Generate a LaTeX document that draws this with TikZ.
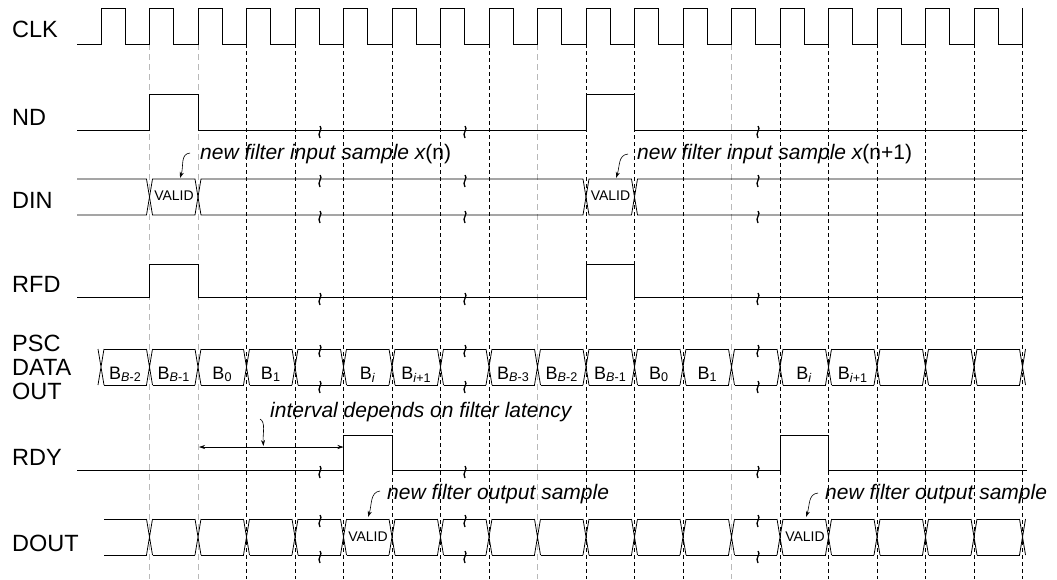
\documentclass[tikz,border=0pt]{standalone}
\usepackage{fontspec}
\setmainfont{Liberation Sans}
\usetikzlibrary{arrows.meta}

\newcommand{\Bsub}[1]{B\textsubscript{#1}}

\tikzset{brk/.pic={\draw[line width=1.3pt] (0,-4) .. controls (3.5,-1) and (-3.5,3) .. (0,8);}}

\begin{document}
\begin{tikzpicture}[x=1pt, y=-1pt,
					sig/.style={line width=0.8pt},
					grid/.style={dash pattern=on 4pt off 3pt, line width=0.7pt},
					lgrid/.style={gray!55, dash pattern=on 6pt off 4pt, line width=0.6pt},
					lbl/.style={anchor=base west, inner sep=0pt, font=\fontsize{23.5}{24}\selectfont},
					ann/.style={anchor=base west, inner sep=0pt, font=\fontsize{21}{21}\selectfont\itshape},
					val/.style={anchor=base, inner sep=0pt, font=\fontsize{14}{14}\selectfont},
					bval/.style={anchor=base, inner sep=0pt, font=\fontsize{18}{18}\selectfont},
					pointer/.style={-{Stealth[length=6pt,width=4pt]}, line width=0.6pt}]
\useasboundingbox (0,0) rectangle (1057,579);

% clock edge grid
\foreach \k in {1,2,9,13}
	\draw[lgrid] ({101+48.5*\k},44) -- ({101+48.5*\k},579);
\foreach \k in {3,4,5,6,7,8,10,11,12,14,15,16,17,18,19}
	\draw[grid] ({101+48.5*\k},44) -- ({101+48.5*\k},579);

% signal names
\node[lbl] (clk) at (12,37) {CLK};
\node[lbl] (nd) at (12,125) {ND};
\node[lbl] (din) at (12,208) {DIN};
\node[lbl] (rfd) at (12,292) {RFD};
\node[lbl] (psc) at (12,351) {PSC};
\node[lbl] (pscdata) at (12,375) {DATA};
\node[lbl] (pscout) at (12,399) {OUT};
\node[lbl] (rdy) at (12,465) {RDY};
\node[lbl] (dout) at (12,551) {DOUT};

% CLK
\draw[sig] (77,44) \foreach \k in {0,...,18} { -- ({101+48.5*\k},44) -- ++(0,-36) -- ++(24.25,0) -- ++(0,36) } -- (1022.5,44) -- (1022.5,8);

% ND and RFD
\draw[sig] (77,130) -- (149.5,130) -- (149.5,94) -- (198,94) -- (198,130) -- (586,130) -- (586,94) -- (634.5,94) -- (634.5,130) -- (1027,130);
\draw[sig] (77,297) -- (149.5,297) -- (149.5,264) -- (198,264) -- (198,297) -- (586,297) -- (586,264) -- (634.5,264) -- (634.5,297) -- (1023,297);

% DIN
\draw[sig] (77,179) -- (146.5,179) -- (152.5,215) -- (195,215) -- (201,179) -- (583,179) -- (589,215) -- (631.5,215) -- (637.5,179) -- (1023,179);
\draw[sig] (77,215) -- (146.5,215) -- (152.5,179) -- (195,179) -- (201,215) -- (583,215) -- (589,179) -- (631.5,179) -- (637.5,215) -- (1023,215);
\node[val] (dinvalid) at (174,200) {VALID};
\node[val] (dinvalid2) at (610.5,200) {VALID};

% PSC DATA OUT
\foreach \k in {0,...,19}
	\draw[sig] ({98+48.5*\k},349) -- ++(6,36) ({98+48.5*\k},385) -- ++(6,-36);
\foreach \k in {0,...,18}
	\draw[sig] ({104+48.5*\k},349) -- ++(42.5,0) ({104+48.5*\k},385) -- ++(42.5,0);
\foreach \k/\t in {0/\Bsub{\textit{B}-2}, 1/\Bsub{\textit{B}-1}, 2/\Bsub{0}, 3/\Bsub{1},
		5/\Bsub{\textit{i}}, 6/\Bsub{\textit{i}+1}, 8/\Bsub{\textit{B}-3}, 9/\Bsub{\textit{B}-2},
		10/\Bsub{\textit{B}-1}, 11/\Bsub{0}, 12/\Bsub{1}, 14/\Bsub{\textit{i}}, 15/\Bsub{\textit{i}+1}}
	\node[bval] (b\k) at ({125.25+48.5*\k},379) {\t};

% RDY
\draw[sig] (77,470) -- (343.5,470) -- (343.5,435) -- (392,435) -- (392,470) -- (780,470) -- (780,435) -- (828.5,435) -- (828.5,470) -- (1027,470);

% DOUT
\foreach \k in {1,...,19}
	\draw[sig] ({98+48.5*\k},519) -- ++(6,36) ({98+48.5*\k},555) -- ++(6,-36);
\foreach \k in {0,...,18}
	\draw[sig] ({104+48.5*\k},519) -- ++(42.5,0) ({104+48.5*\k},555) -- ++(42.5,0);
\node[val] (doutvalid) at (368,541.5) {VALID};
\node[val] (doutvalid2) at (805,541.5) {VALID};

% breaks
\foreach \bx in {320,465,758}
	\foreach \by in {130,179,215,297,349,385,470,519,555}
		\pic at (\bx,\by) {brk};

% notes
\node[ann] (innote) at (200,159) {new filter input sample x\upshape(n)};
\node[ann] (innote2) at (637,159) {new filter input sample x\upshape(n+1)};
\node[ann] (latnote) at (270,417) {interval depends on filter latency};
\node[ann] (outnote) at (387,499) {new filter output sample};
\node[ann] (outnote2) at (825,499) {new filter output sample};

\coordinate (intip) at (180,178);
\coordinate (intip2) at (616,178);
\coordinate (latA) at (199,447);
\coordinate (latB) at (343.5,447);
\coordinate (lattip) at (263.5,446);
\coordinate (outtip) at (368,517);
\coordinate (outtip2) at (806,517);

\draw[{Stealth[length=6pt,width=4pt]}-{Stealth[length=6pt,width=4pt]}, line width=0.6pt] (latA) -- (latB);
\draw[pointer] ([shift={(-10,-6)}]innote.base west) .. controls +(-10,1) and +(4,-12) .. (intip);
\draw[pointer] ([shift={(-9,-5)}]innote2.base west) .. controls +(-10,1) and +(4,-12) .. (intip2);
\draw[pointer] ([shift={(-10,2)}]latnote.base west) .. controls +(6,3) and +(-1,-12) .. (lattip);
\draw[pointer] ([shift={(-7,-8)}]outnote.base west) .. controls +(-10,1) and +(4,-12) .. (outtip);
\draw[pointer] ([shift={(-7,-6)}]outnote2.base west) .. controls +(-10,1) and +(4,-12) .. (outtip2);
\end{tikzpicture}
\end{document}
